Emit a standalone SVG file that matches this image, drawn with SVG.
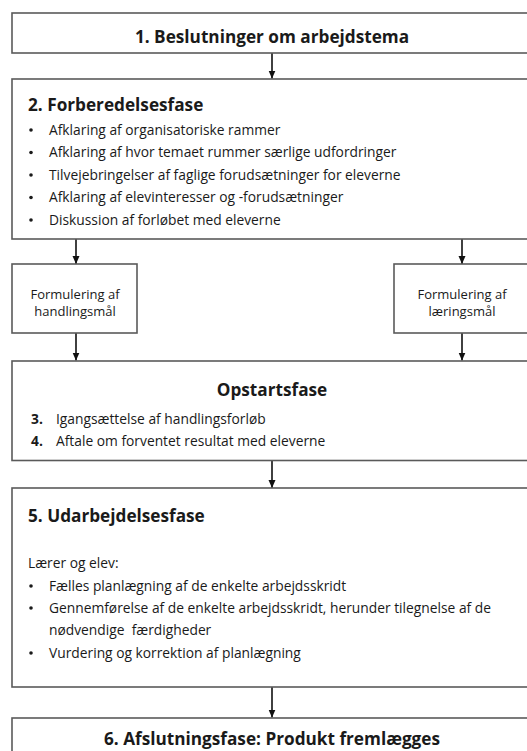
<svg xmlns="http://www.w3.org/2000/svg" width="527" height="751" viewBox="0 0 527 751">
<style>
.box{fill:#fff;stroke:#5a5a5a;stroke-width:1.6}
.t{font-family:"Open Sans","Liberation Sans",sans-serif;fill:#1a1a1a}
.h{font-size:17.2px;font-weight:700}
.b{font-size:13.8px}
.s{font-size:13px}
.c{text-anchor:middle}
.dot{fill:#1a1a1a}
.arr{stroke:#111;stroke-width:1.6;fill:none;marker-end:url(#ah)}
</style>
<defs>
<marker id="ah" viewBox="0 0 8 8" refX="8" refY="4" markerWidth="8" markerHeight="8" markerUnits="userSpaceOnUse" orient="auto">
<path d="M0,0.5 L8,4 L0,7.5 Z" fill="#111"/>
</marker>
</defs>
<rect width="527" height="751" fill="#fff"/>
<g id="connectors">
<line class="arr" x1="272" y1="53" x2="272" y2="78.5"/>
<line class="arr" x1="76" y1="239" x2="76" y2="264"/>
<line class="arr" x1="462" y1="239" x2="462" y2="264"/>
<line class="arr" x1="76" y1="333" x2="76" y2="360.5"/>
<line class="arr" x1="462" y1="333" x2="462" y2="360.5"/>
<line class="arr" x1="272" y1="460.5" x2="272" y2="488"/>
<line class="arr" x1="272" y1="687" x2="272" y2="717.5"/>
</g>
<g id="n1">
<rect class="box" x="12" y="13" width="520" height="40"/>
<text class="t h c" x="272" y="43">1. Beslutninger om arbejdstema</text>
</g>
<g id="n2">
<rect class="box" x="12" y="79" width="520" height="160"/>
<text class="t h" x="28" y="111">2. Forberedelsesfase</text>
<circle class="dot" cx="31" cy="130" r="1.8"/>
<circle class="dot" cx="31" cy="152.5" r="1.8"/>
<circle class="dot" cx="31" cy="175" r="1.8"/>
<circle class="dot" cx="31" cy="197.5" r="1.8"/>
<circle class="dot" cx="31" cy="220" r="1.8"/>
<text class="t b" x="49" y="134.5">Afklaring af organisatoriske rammer</text>
<text class="t b" x="49" y="157">Afklaring af hvor temaet rummer særlige udfordringer</text>
<text class="t b" x="49" y="179.5">Tilvejebringelser af faglige forudsætninger for eleverne</text>
<text class="t b" x="49" y="202">Afklaring af elevinteresser og -forudsætninger</text>
<text class="t b" x="49" y="224.5">Diskussion af forløbet med eleverne</text>
</g>
<g id="n3">
<rect class="box" x="12" y="264" width="125" height="69"/>
<text class="t s c" x="75" y="298.5">Formulering af</text>
<text class="t s c" x="75" y="316.3">handlingsmål</text>
</g>
<g id="n4">
<rect class="box" x="394" y="264" width="138" height="69"/>
<text class="t s c" x="462" y="298.5">Formulering af</text>
<text class="t s c" x="462" y="316.3">læringsmål</text>
</g>
<g id="n5">
<rect class="box" x="12" y="361" width="520" height="99.5"/>
<text class="t h c" x="272" y="396">Opstartsfase</text>
<text class="t b" x="31" y="424" font-weight="700">3.</text>
<text class="t b" x="56" y="424">Igangsættelse af handlingsforløb</text>
<text class="t b" x="31" y="446" font-weight="700">4.</text>
<text class="t b" x="56" y="446">Aftale om forventet resultat med eleverne</text>
</g>
<g id="n6">
<rect class="box" x="12" y="488" width="520" height="199"/>
<text class="t h" x="28" y="522">5. Udarbejdelsesfase</text>
<text class="t b" x="28" y="567.5">Lærer og elev:</text>
<circle class="dot" cx="31" cy="586" r="1.8"/>
<circle class="dot" cx="31" cy="608" r="1.8"/>
<circle class="dot" cx="31" cy="653" r="1.8"/>
<text class="t b" x="49" y="590.5">Fælles planlægning af de enkelte arbejdsskridt</text>
<text class="t b" x="49" y="612.5">Gennemførelse af de enkelte arbejdsskridt, herunder tilegnelse af de</text>
<text class="t b" x="49" y="634.5" xml:space="preserve">nødvendige  færdigheder</text>
<text class="t b" x="49" y="657.5">Vurdering og korrektion af planlægning</text>
</g>
<g id="n7">
<rect class="box" x="12" y="718" width="520" height="45"/>
<text class="t h c" x="272" y="745">6. Afslutningsfase: Produkt fremlægges</text>
</g>
</svg>
